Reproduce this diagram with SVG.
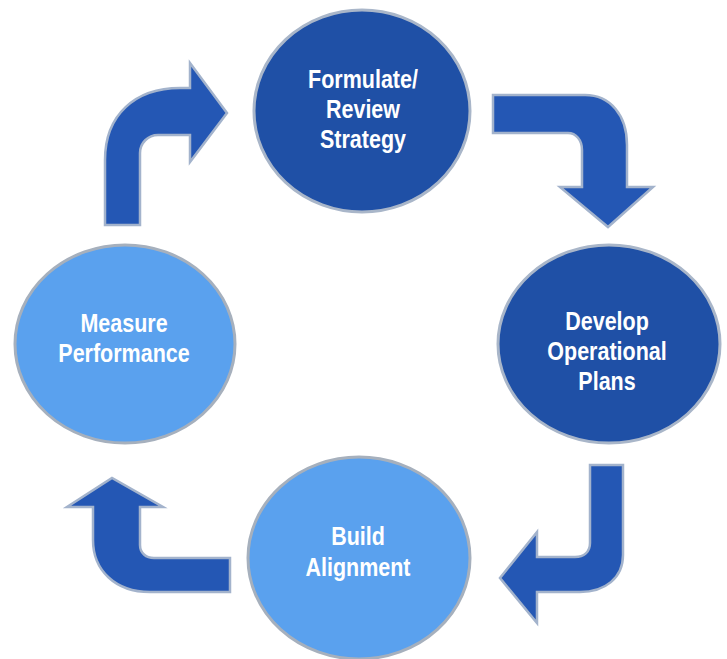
<svg xmlns="http://www.w3.org/2000/svg" width="727" height="659" viewBox="0 0 727 659">
<style>
.dark{fill:#1f50a6;stroke:#a9b6c9;stroke-width:3}
.light{fill:#5aa1ee;stroke:#a6b0bd;stroke-width:3}
.arrow{fill:#2457b4;stroke:#a3b3cc;stroke-width:2.5;stroke-linejoin:miter}
.lbl{font-family:"Liberation Sans",Arial,sans-serif;font-weight:bold;font-size:25px;fill:#ffffff;text-anchor:middle}
</style>
<rect width="727" height="659" fill="#ffffff"/>
<g id="connectors">
<path class="arrow" d="M105,225 L105,160 C105,115 135,88 180,88 L190,88 L190,63 L227,113 L190,162 L190,135 L158,135 C148,135 140,143 140,153 L140,225 Z"/>
<path class="arrow" d="M493,95 L585,95 C610,95 627,115 627,145 L627,187 L653,187 L608,227 L560,187 L582,187 L582,150 C582,140 576,133 568,133 L493,133 Z"/>
<path class="arrow" d="M590,465 L623,465 L623,555 C623,578 605,592 580,592 L537,592 L537,623 L500,578 L537,532 L537,557 L575,557 C584,557 590,552 590,543 Z"/>
<path class="arrow" d="M230,558 L230,592 L150,592 C115,592 93,570 93,540 L93,507 L67,507 L112,478 L163,507 L140,507 L140,545 C140,553 146,558 154,558 Z"/>
</g>
<g id="formulate">
<ellipse class="dark" cx="362" cy="111" rx="108" ry="101"/>
<text class="lbl" transform="translate(363,88) scale(0.86,1)">Formulate/</text>
<text class="lbl" transform="translate(363,118) scale(0.86,1)">Review</text>
<text class="lbl" transform="translate(363,148) scale(0.86,1)">Strategy</text>
</g>
<g id="develop">
<ellipse class="dark" cx="609" cy="344" rx="111" ry="99"/>
<text class="lbl" transform="translate(607,330) scale(0.86,1)">Develop</text>
<text class="lbl" transform="translate(607,360) scale(0.86,1)">Operational</text>
<text class="lbl" transform="translate(607,390) scale(0.86,1)">Plans</text>
</g>
<g id="build">
<ellipse class="light" cx="359" cy="558" rx="111" ry="101"/>
<text class="lbl" transform="translate(358,545) scale(0.86,1)">Build</text>
<text class="lbl" transform="translate(358,576) scale(0.86,1)">Alignment</text>
</g>
<g id="measure">
<ellipse class="light" cx="125" cy="344" rx="110" ry="99"/>
<text class="lbl" transform="translate(124,332) scale(0.86,1)">Measure</text>
<text class="lbl" transform="translate(124,362) scale(0.86,1)">Performance</text>
</g>
</svg>
